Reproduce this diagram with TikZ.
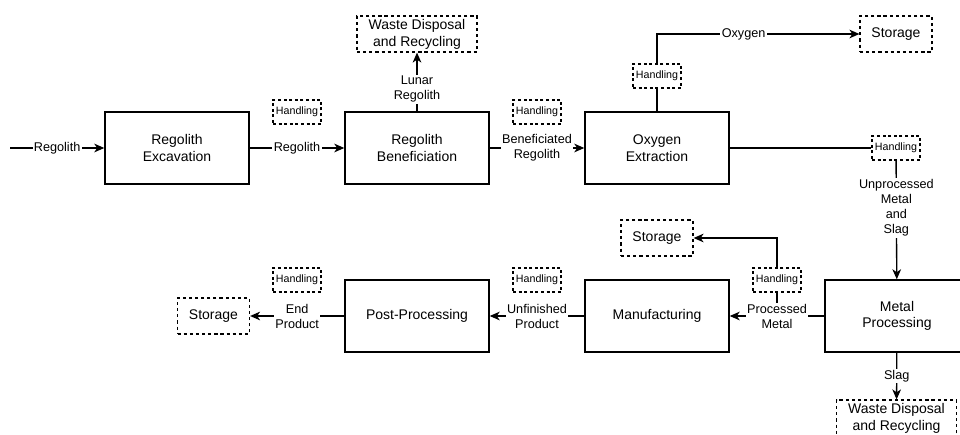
\documentclass[tikz,border=0pt]{standalone}
\usepackage{fontspec}
\setmainfont{Liberation Sans}
\usetikzlibrary{arrows.meta}
\begin{document}
\begin{tikzpicture}[x=0.75pt,y=-0.75pt,
  line width=1pt,
  proc/.style={draw, line width=1.1pt, fill=white, minimum width=108pt, minimum height=54pt,
    inner sep=0pt, align=center, font=\fontsize{10.5}{12.5}\selectfont},
  sink/.style={draw, line width=0.9pt, dash pattern=on 2.4pt off 2.2pt, fill=white, minimum height=27pt,
    inner sep=0pt, align=center, font=\fontsize{10.5}{12.75}\selectfont},
  handling/.style={draw, line width=0.9pt, dash pattern=on 2.2pt off 2pt, fill=white, minimum width=36pt,
    minimum height=18pt, inner sep=0pt, font=\fontsize{8}{9}\selectfont},
  lbl/.style={fill=white, inner sep=1pt, align=center, font=\fontsize{9.5}{11.25}\selectfont},
  flow/.style={-{Stealth[length=7.5pt, width=6.5pt, inset=2.2pt]}},
]
\clip (0,0) rectangle (960,435);
\fill[white] (0,0) rectangle (960,435);

% process blocks
\node[proc] (exc)  at (177,148) {Regolith\\Excavation};
\node[proc] (ben)  at (417,148) {Regolith\\Beneficiation};
\node[proc] (oxy)  at (657,148) {Oxygen\\Extraction};
\node[proc] (metal) at (897,316) {Metal\\Processing};
\node[proc] (manu) at (657,316) {Manufacturing};
\node[proc] (post) at (417,316) {Post-Processing};

% storage and waste sinks
\node[sink, minimum width=90pt] (wasteTop) at (417,34) {Waste Disposal\\and Recycling};
\node[sink, minimum width=54pt] (storeTop) at (896,34) {Storage};
\node[sink, minimum width=54pt] (storeMid) at (657,238) {Storage};
\node[sink, minimum width=54pt] (storeLeft) at (213.5,316) {Storage};
\node[sink, minimum width=90pt] (wasteBot) at (896.5,418) {Waste Disposal\\and Recycling};

% handling steps
\node[handling] (h1) at (297,112) {Handling};
\node[handling] (h2) at (537,112) {Handling};
\node[handling] (h3) at (657,76) {Handling};
\node[handling] (h4) at (896,148) {Handling};
\node[handling] (h5) at (777,280) {Handling};
\node[handling] (h6) at (537,280) {Handling};
\node[handling] (h7) at (297,280) {Handling};

% material flows
\coordinate (in) at (10,148);
\draw[flow] (in) -- node[lbl] {Regolith} (exc);
\draw[flow] (exc) -- node[lbl] {Regolith} (ben);
\draw[flow] (ben) -- node[lbl, pos=0.375] {Lunar\\Regolith} (wasteTop);
\draw[flow] (ben) -- node[lbl] {Beneficiated\\Regolith} (oxy);

\draw (oxy) -- (h3);
\draw[flow] (h3) |- node[lbl, pos=0.714] {Oxygen} (storeTop);

\draw (oxy) -- (h4);
\draw[flow] (h4) -- node[lbl, pos=0.40] {Unprocessed\\Metal\\and\\Slag} (metal);

\coordinate (pm) at (777,316);
\draw (pm) -- (h5);
\draw[flow] (h5) |- (storeMid);
\draw[flow] (metal) -- node[lbl] {Processed\\Metal} (manu);

\draw[flow] (metal) -- node[lbl] {Slag} (wasteBot);
\draw[flow] (manu) -- node[lbl] {Unfinished\\Product} (post);
\draw[flow] (post) -- node[lbl] {End\\Product} (storeLeft);
\end{tikzpicture}
\end{document}
